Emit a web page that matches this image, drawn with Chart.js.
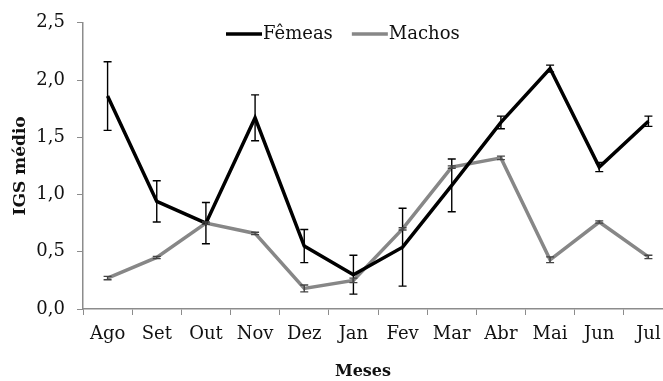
<!DOCTYPE html>
<html>
<head>
<meta charset="utf-8">
<script src="https://cdn.jsdelivr.net/npm/chart.js@4.4.0/dist/chart.umd.min.js"></script>
<style>
  html, body { margin: 0; padding: 0; background: #fff; overflow: hidden; }
  #wrap { width: 682px; height: 381px; }
</style>
</head>
<body>
<div id="wrap"><canvas id="mycanvas" width="682" height="381"></canvas></div>
<script>
// months (Aug -> Jul)
var meses = ['Ago', 'Set', 'Out', 'Nov', 'Dez', 'Jan', 'Fev', 'Mar', 'Abr', 'Mai', 'Jun', 'Jul'];

// mean IGS and error per month
var femeas    = [1.86, 0.94, 0.75, 1.67, 0.55, 0.30, 0.54, 1.08, 1.63, 2.10, 1.24, 1.64];
var femeasErr = [0.30, 0.18, 0.18, 0.20, 0.145, 0.17, 0.34, 0.23, 0.055, 0.03, 0.04, 0.045];
var machos    = [0.27, 0.45, 0.75, 0.66, 0.18, 0.25, 0.70, 1.24, 1.32, 0.43, 0.76, 0.455];
var machosErr = [0.015, 0.01, 0.01, 0.01, 0.03, 0.02, 0.01, 0.01, 0.015, 0.025, 0.01, 0.015];

var yTickLabels = ['0,0', '0,5', '1,0', '1,5', '2,0', '2,5'];

var serif = "'DejaVu Serif', 'Liberation Serif', serif";
var axisColor = '#8c8c8c';

// draws the error bars on top of the lines
var errorBars = {
    id: 'errorBars',
    afterDatasetsDraw: function (chart) {
        var ctx = chart.ctx;
        var y = chart.scales.y;
        chart.data.datasets.forEach(function (ds, di) {
            var meta = chart.getDatasetMeta(di);
            ctx.save();
            ctx.strokeStyle = ds.errColor;
            ctx.lineWidth = 1.4;
            meta.data.forEach(function (pt, i) {
                var top = y.getPixelForValue(ds.data[i] + ds.errors[i]);
                var bot = y.getPixelForValue(ds.data[i] - ds.errors[i]);
                ctx.beginPath();
                ctx.moveTo(pt.x, top); ctx.lineTo(pt.x, bot);
                ctx.moveTo(pt.x - 4, top); ctx.lineTo(pt.x + 4, top);
                ctx.moveTo(pt.x - 4, bot); ctx.lineTo(pt.x + 4, bot);
                ctx.stroke();
            });
            ctx.restore();
        });
    }
};

// legend drawn inside the plot, line sample right next to the text,
// plus the x axis title (it sits a bit left of the plot centre)
var innerLegend = {
    id: 'innerLegend',
    afterDraw: function (chart) {
        var ctx = chart.ctx;
        var area = chart.chartArea;
        var x = area.left + 143, yy = 34;
        ctx.save();
        ctx.font = '18px ' + serif;
        ctx.textBaseline = 'middle';
        chart.data.datasets.forEach(function (ds) {
            ctx.strokeStyle = ds.borderColor;
            ctx.lineWidth = 3.5;
            ctx.beginPath();
            ctx.moveTo(x, yy); ctx.lineTo(x + 36, yy);
            ctx.stroke();
            ctx.fillStyle = '#111';
            ctx.fillText(ds.label, x + 37, yy);
            x += 37 + ctx.measureText(ds.label).width + 19;
        });
        ctx.font = 'bold 16px ' + serif;
        ctx.textAlign = 'center';
        ctx.fillText('Meses', area.left + 280, 372);
        ctx.restore();
    }
};

var ctx_live = document.getElementById('mycanvas');
var myChart = new Chart(ctx_live, {
    type: 'line',
    data: {
        labels: meses,
        datasets: [{
            label: 'Fêmeas',
            data: femeas,
            errors: femeasErr,
            errColor: '#000',
            borderColor: '#000',
            borderWidth: 3.5,
            pointRadius: 0,
            tension: 0
        }, {
            label: 'Machos',
            data: machos,
            errors: machosErr,
            errColor: '#444',
            borderColor: '#878787',
            borderWidth: 3.5,
            pointRadius: 0,
            tension: 0
        }]
    },
    options: {
        responsive: false,
        animation: false,
        layout: { padding: { top: 10, right: 9, left: 0, bottom: 0 } },
        plugins: {
            legend: { display: false },
            tooltip: { enabled: false }
        },
        scales: {
            x: {
                offset: true,
                grid: { offset: true, drawOnChartArea: false, color: axisColor, tickLength: 6 },
                border: { color: axisColor, width: 1.5 },
                ticks: { color: '#111', padding: 9, font: { family: serif, size: 18 }, maxRotation: 0 },
                afterFit: function (scale) { scale.height = 72; }
            },
            y: {
                min: 0,
                max: 2.5,
                ticks: {
                    stepSize: 0.5, color: '#111', padding: 12,
                    font: { family: serif, size: 18 },
                    callback: function (v, i) { return yTickLabels[i]; }
                },
                grid: { drawOnChartArea: false, color: axisColor, tickLength: 6 },
                border: { color: axisColor, width: 1.5 },
                title: {
                    display: true, text: 'IGS médio', color: '#111',
                    font: { family: serif, size: 17, weight: 'bold' },
                    padding: { top: 10, bottom: 0 }
                },
                afterFit: function (scale) { scale.width = 83; }
            }
        }
    },
    plugins: [errorBars, innerLegend]
});
</script>
</body>
</html>
